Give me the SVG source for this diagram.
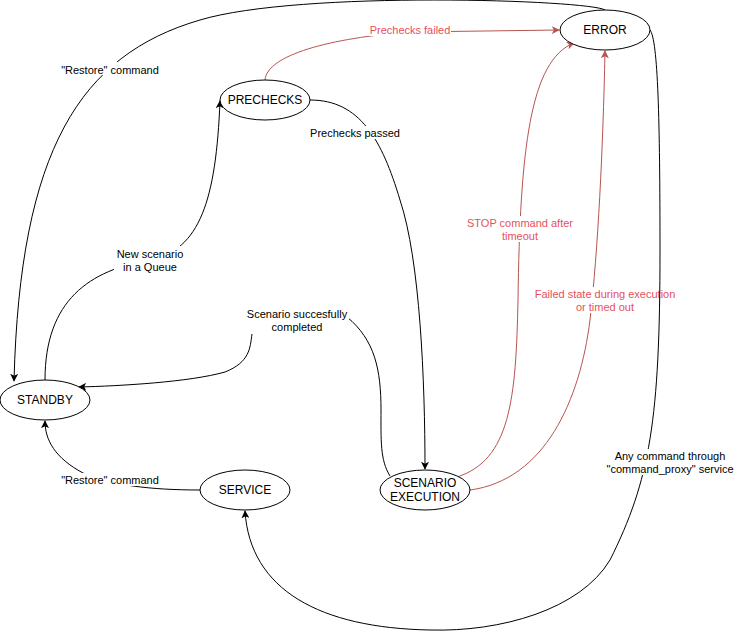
<svg xmlns="http://www.w3.org/2000/svg" width="734" height="631" viewBox="0 0 734 631">
<style>
.node ellipse{fill:#fff;stroke:#000;stroke-width:1}
.node text{font-family:"Liberation Sans",Arial,sans-serif;font-size:12px;fill:#000;text-anchor:middle}
.e{fill:none;stroke:#000;stroke-width:1}
.r{fill:none;stroke:#b85450;stroke-width:1}
.lbl{font-family:"Liberation Sans",Arial,sans-serif;font-size:11px;text-anchor:middle;fill:#000}
.lr{fill:#e5505a}
.bg{fill:#fff}
</style>
<defs>
<marker id="ab" viewBox="0 0 10 10" refX="9" refY="5" markerWidth="8" markerHeight="8" markerUnits="userSpaceOnUse" orient="auto">
<path d="M0 0 L10 5 L0 10 L2.5 5 Z" fill="#000"/>
</marker>
<marker id="ar" viewBox="0 0 10 10" refX="9" refY="5" markerWidth="8" markerHeight="8" markerUnits="userSpaceOnUse" orient="auto">
<path d="M0 0 L10 5 L0 10 L2.5 5 Z" fill="#b85450"/>
</marker>
</defs>
<rect width="734" height="631" fill="#fff"/>
<g id="connectors">
<g id="c-error-standby">
<path class="e" d="M605 10 C590 0 300 -10 200 20 C80 55 20 150 14 381" marker-end="url(#ab)"/>
<rect class="bg" x="60" y="62" width="100" height="13"/>
<text class="lbl" x="110" y="74">"Restore" command</text>
</g>
<g id="c-prechecks-error">
<path class="r" d="M265 80 C267 55 330 38 410 32 L559 30" marker-end="url(#ar)"/>
<rect class="bg" x="369" y="23" width="82" height="13"/>
<text class="lbl lr" x="410" y="34">Prechecks failed</text>
</g>
<g id="c-prechecks-scenario">
<path class="e" d="M310 100 C360 100 382 140 400 200 C420 260 425 380 425 469" marker-end="url(#ab)"/>
<rect class="bg" x="309" y="126" width="93" height="13"/>
<text class="lbl" x="355" y="137">Prechecks passed</text>
</g>
<g id="c-standby-prechecks">
<path class="e" d="M45 380 C45 300 90 270 150 260 C200 250 216 200 220 101" marker-end="url(#ab)"/>
<rect class="bg" x="114" y="246" width="72" height="27"/>
<text class="lbl" x="150" y="258">New scenario</text>
<text class="lbl" x="150" y="271">in a Queue</text>
</g>
<g id="c-scenario-standby">
<path class="e" d="M390 476 C380 460 381 440 381 410 C381 370 375 340 347 317"/>
<path class="e" d="M252 334 C250 348 250 362 225 372 C190 382 120 386 79 387" marker-end="url(#ab)"/>
<rect class="bg" x="245" y="307" width="104" height="26"/>
<text class="lbl" x="297" y="318">Scenario succesfully</text>
<text class="lbl" x="297" y="331">completed</text>
</g>
<g id="c-scenario-error-stop">
<path class="r" d="M457 477 C510 460 516 400 518 300 C520 150 530 60 574 43" marker-end="url(#ar)"/>
<rect class="bg" x="467" y="216" width="106" height="26"/>
<text class="lbl lr" x="520" y="227">STOP command after</text>
<text class="lbl lr" x="520" y="240">timeout</text>
</g>
<g id="c-scenario-error-failed">
<path class="r" d="M470 490 C545 480 580 400 590 320 C598 250 603 150 605 51" marker-end="url(#ar)"/>
<rect class="bg" x="535" y="287" width="141" height="26"/>
<text class="lbl lr" x="605" y="298">Failed state during execution</text>
<text class="lbl lr" x="605" y="311">or timed out</text>
</g>
<g id="c-error-service">
<path class="e" d="M650 30 C658 40 660 120 660 250 C660 420 650 480 610 560 C580 610 500 632 430 630 C320 628 250 590 245 511" marker-end="url(#ab)"/>
<rect class="bg" x="607" y="449" width="127" height="26"/>
<text class="lbl" x="670" y="460">Any command through</text>
<text class="lbl" x="670" y="473">"command_proxy" service</text>
</g>
<g id="c-service-standby">
<path class="e" d="M200 490 C150 490 110 485 83 473 C55 458 45 440 45 421" marker-end="url(#ab)"/>
<rect class="bg" x="60" y="473" width="100" height="13"/>
<text class="lbl" x="110" y="484">"Restore" command</text>
</g>
</g>
<g id="n-error" class="node"><ellipse cx="605" cy="30" rx="45" ry="20"/><text x="605" y="34">ERROR</text></g>
<g id="n-prechecks" class="node"><ellipse cx="265" cy="100" rx="45" ry="20"/><text x="265" y="104">PRECHECKS</text></g>
<g id="n-standby" class="node"><ellipse cx="45" cy="400" rx="45" ry="20"/><text x="45" y="404">STANDBY</text></g>
<g id="n-service" class="node"><ellipse cx="245" cy="490" rx="45" ry="20"/><text x="245" y="494">SERVICE</text></g>
<g id="n-scenario" class="node"><ellipse cx="425" cy="490" rx="45" ry="20"/><text x="425" y="487">SCENARIO</text><text x="425" y="501">EXECUTION</text></g>
</svg>
